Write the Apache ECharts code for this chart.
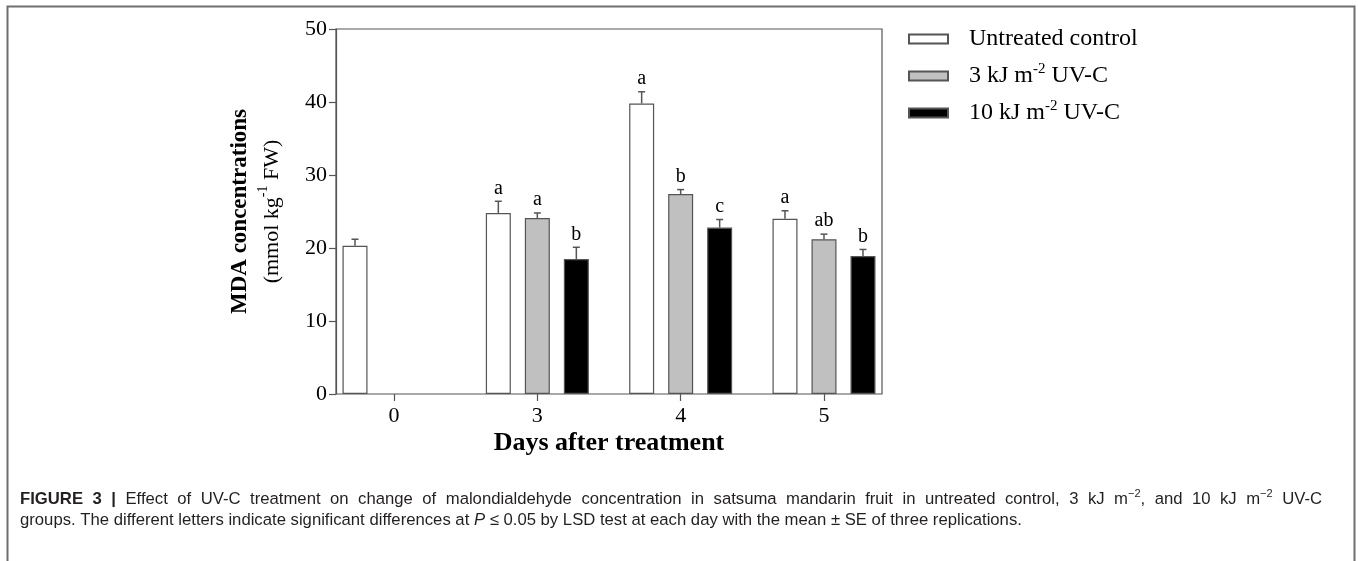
<!DOCTYPE html>
<html>
<head>
<meta charset="utf-8">
<script src="https://cdn.jsdelivr.net/npm/echarts@6/dist/echarts.min.js"></script>
<style>
html,body{margin:0;padding:0;background:#fff;}
#chart{width:1358px;height:561px;}
</style>
</head>
<body>
<div id="chart"></div>
<script>
// ---- data ----
const days = ['0', '3', '4', '5'];
const seriesNames = ['Untreated control', '3 kJ m-2 UV-C', '10 kJ m-2 UV-C'];
const untreated = [20.3, 24.8, 39.8, 24.0];
const uv3 = [null, 24.1, 27.4, 21.2];
const uv10 = [null, 18.5, 22.8, 18.9];
const untreatedErr = [0.9, 1.6, 1.6, 1.1];
const uv3Err = [null, 0.7, 0.6, 0.7];
const uv10Err = [null, 1.6, 1.1, 0.9];
const untreatedLetters = ['', 'a', 'a', 'a'];
const uv3Letters = ['', 'a', 'b', 'ab'];
const uv10Letters = ['', 'b', 'c', 'b'];
const yTicks = [0, 10, 20, 30, 40, 50];

// ---- layout constants ----
const SERIF = '"Liberation Serif", "Times New Roman", serif';
const SANS = '"Liberation Sans", Arial, sans-serif';
const plotLeft = 336, plotRight = 882, plotTop = 29, plotBottom = 394;
const band = 143.33;
const barW = 25, barGapPx = 14;
const offsets = [-(barW + barGapPx), 0, barW + barGapPx];

const values = [untreated, uv3, uv10];
const errs = [untreatedErr, uv3Err, uv10Err];
const letters = [untreatedLetters, uv3Letters, uv10Letters];
const fills = ['#ffffff', '#c0c0c0', '#000000'];
const edge = '#555555';

const grid1Left = 394 - band / 2;
const grid1Width = band * 4;

// ---- caption (line 1 is justified like the journal layout) ----
const capSize = 16.7;
const capColor = '#231f20';
const capX = 20, capRight = 1322;
const cap1Parts = [
  ['b', 'FIGURE 3 |'],
  ['n', ' Effect of UV-C treatment on change of malondialdehyde concentration in satsuma mandarin fruit in untreated control, 3 kJ m'],
  ['s', '\u22122'],
  ['n', ', and 10 kJ m'],
  ['s', '\u22122'],
  ['n', ' UV-C']
];
const cap2Text = '{n|groups. The different letters indicate significant differences at }{i|P}{n| \u2264 0.05 by LSD test at each day with the mean \u00b1 SE of three replications.}';

const capFonts = {
  b: 'bold ' + capSize + 'px ' + SANS,
  n: capSize + 'px ' + SANS,
  s: Math.round(capSize * 0.68) + 'px ' + SANS
};
function buildJustified() {
  const ctx = document.createElement('canvas').getContext('2d');
  let natural = 0, spaces = 0;
  cap1Parts.forEach(([st, t]) => {
    ctx.font = capFonts[st];
    natural += ctx.measureText(t).width;
    if (st !== 's') spaces += (t.match(/ /g) || []).length;
  });
  ctx.font = capFonts.n;
  const spW = ctx.measureText(' ').width;
  const extra = Math.max(0, (capRight - capX) - natural) / spaces;
  let out = '';
  cap1Parts.forEach(([st, t]) => {
    if (st === 's') { out += '{s|' + t + '}'; return; }
    const words = t.split(' ');
    words.forEach((w, wi) => {
      if (wi > 0) out += '{sp| }';
      if (w) out += '{' + st + '|' + w + '}';
    });
  });
  return {text: out, spaceWidth: spW + extra};
}
const j = buildJustified();

function errSeries(k) {
  const data = [];
  days.forEach((d, i) => {
    if (values[k][i] != null) data.push([i, values[k][i], errs[k][i]]);
  });
  return {
    type: 'custom',
    xAxisIndex: 1, yAxisIndex: 1,
    silent: true, z: 5,
    data: data,
    renderItem: function (params, api) {
      const i = api.value(0), v = api.value(1), e = api.value(2);
      const lab = letters[k][i];
      const p0 = api.coord([i, v]);
      const p1 = api.coord([i, v + e]);
      const x = p0[0] + offsets[k];
      const children = [
        {type: 'line', shape: {x1: x, y1: p0[1], x2: x, y2: p1[1]}, style: {stroke: edge, lineWidth: 1.5}},
        {type: 'line', shape: {x1: x - 3.5, y1: p1[1], x2: x + 3.5, y2: p1[1]}, style: {stroke: edge, lineWidth: 1.5}}
      ];
      if (lab) {
        children.push({type: 'text', x: x, y: p1[1] - 3,
          style: {text: lab, fill: '#000', font: '20px ' + SERIF, textAlign: 'center', textVerticalAlign: 'bottom'}});
      }
      return {type: 'group', children: children};
    }
  };
}

const chart = echarts.init(document.getElementById('chart'), null, {renderer: 'canvas'});

const legendRich = {
  n: {fontFamily: SERIF, fontSize: 24, color: '#000', lineHeight: 28},
  s: {fontFamily: SERIF, fontSize: 15, color: '#000', verticalAlign: 'top', lineHeight: 15}
};

const option = {
  animation: false,
  backgroundColor: '#ffffff',
  grid: [
    {left: plotLeft, top: plotTop, width: plotRight - plotLeft, height: plotBottom - plotTop,
     show: true, borderColor: edge, borderWidth: 1.2, backgroundColor: 'transparent'},
    {left: grid1Left, top: plotTop, width: grid1Width, height: plotBottom - plotTop}
  ],
  legend: {
    orient: 'vertical',
    left: 903, top: 20,
    itemWidth: 39, itemHeight: 9, itemGap: 9,
    data: seriesNames,
    icon: 'rect',
    formatter: function (name) {
      const m = name.match(/^(.*m)-2( UV-C)$/);
      if (m) return '{n|' + m[1] + '}{s|-2}{n|' + m[2] + '}';
      return '{n|' + name + '}';
    },
    textStyle: {fontFamily: SERIF, fontSize: 24, color: '#000', padding: [0, 0, 0, 16], lineHeight: 28, rich: legendRich}
  },
  xAxis: [
    {type: 'value', gridIndex: 0, min: 0, max: 1, show: false},
    {type: 'category', gridIndex: 1, data: days,
     axisLine: {show: false},
     axisTick: {show: true, alignWithLabel: true, length: 7, lineStyle: {color: edge, width: 1.2}},
     axisLabel: {fontFamily: SERIF, fontSize: 22, color: '#000', margin: 11},
     name: 'Days after treatment', nameLocation: 'middle', nameGap: 34, nameMoveOverlap: false,
     nameTextStyle: {fontFamily: SERIF, fontSize: 26, fontWeight: 'bold', color: '#000', lineHeight: 30}
    }
  ],
  yAxis: [
    {type: 'value', gridIndex: 0, min: 0, max: 50, interval: 10,
     axisLine: {show: true, lineStyle: {color: edge, width: 1.2}},
     axisTick: {show: true, length: 7, lineStyle: {color: edge, width: 1.2}},
     axisLabel: {fontFamily: SERIF, fontSize: 22, color: '#000', margin: 9,
       formatter: function (v) { return yTicks.indexOf(v) >= 0 ? String(v) : ''; }},
     splitLine: {show: false},
     name: '{b|MDA concentrations}\n{n|(mmol kg}{s|-1}{n| FW)}',
     nameLocation: 'middle', nameRotate: 90, nameGap: 48, nameMoveOverlap: false,
     nameTextStyle: {
       rich: {
         b: {fontFamily: SERIF, fontSize: 23, fontWeight: 'bold', color: '#000', lineHeight: 32},
         n: {fontFamily: SERIF, fontSize: 22, color: '#000', lineHeight: 32},
         s: {fontFamily: SERIF, fontSize: 14, color: '#000', verticalAlign: 'top', lineHeight: 20}
       }
     }
    },
    {type: 'value', gridIndex: 1, min: 0, max: 50, interval: 10, show: false}
  ],
  series: [
    ...values.map((vals, k) => ({
      name: seriesNames[k], type: 'bar', xAxisIndex: 1, yAxisIndex: 1,
      data: vals, barWidth: barW, barGap: (barGapPx / barW * 100) + '%',
      itemStyle: {color: fills[k], borderColor: edge, borderWidth: 1.2},
      emphasis: {disabled: true}
    })),
    errSeries(0), errSeries(1), errSeries(2)
  ],
  graphic: [
    {type: 'polyline', shape: {points: [[7.5, 561], [7.5, 6.5], [1354.5, 6.5], [1354.5, 561]]},
     style: {stroke: '#6e6e6e', lineWidth: 2, fill: null}},
    {type: 'text', left: capX, top: 488,
     style: {
       text: j.text,
       rich: {
         b: {font: capFonts.b, fill: capColor, lineHeight: 22},
         n: {font: capFonts.n, fill: capColor, lineHeight: 22},
         sp: {font: capFonts.n, fill: capColor, lineHeight: 22, width: j.spaceWidth},
         s: {font: capFonts.s, fill: capColor, verticalAlign: 'top', lineHeight: 14}
       }
     }},
    {type: 'text', left: capX, top: 512,
     style: {
       text: cap2Text,
       rich: {
         n: {font: capFonts.n, fill: capColor, lineHeight: 22},
         i: {font: 'italic ' + capFonts.n, fill: capColor, lineHeight: 22}
       }
     }}
  ]
};
chart.setOption(option);
</script>
</body>
</html>
